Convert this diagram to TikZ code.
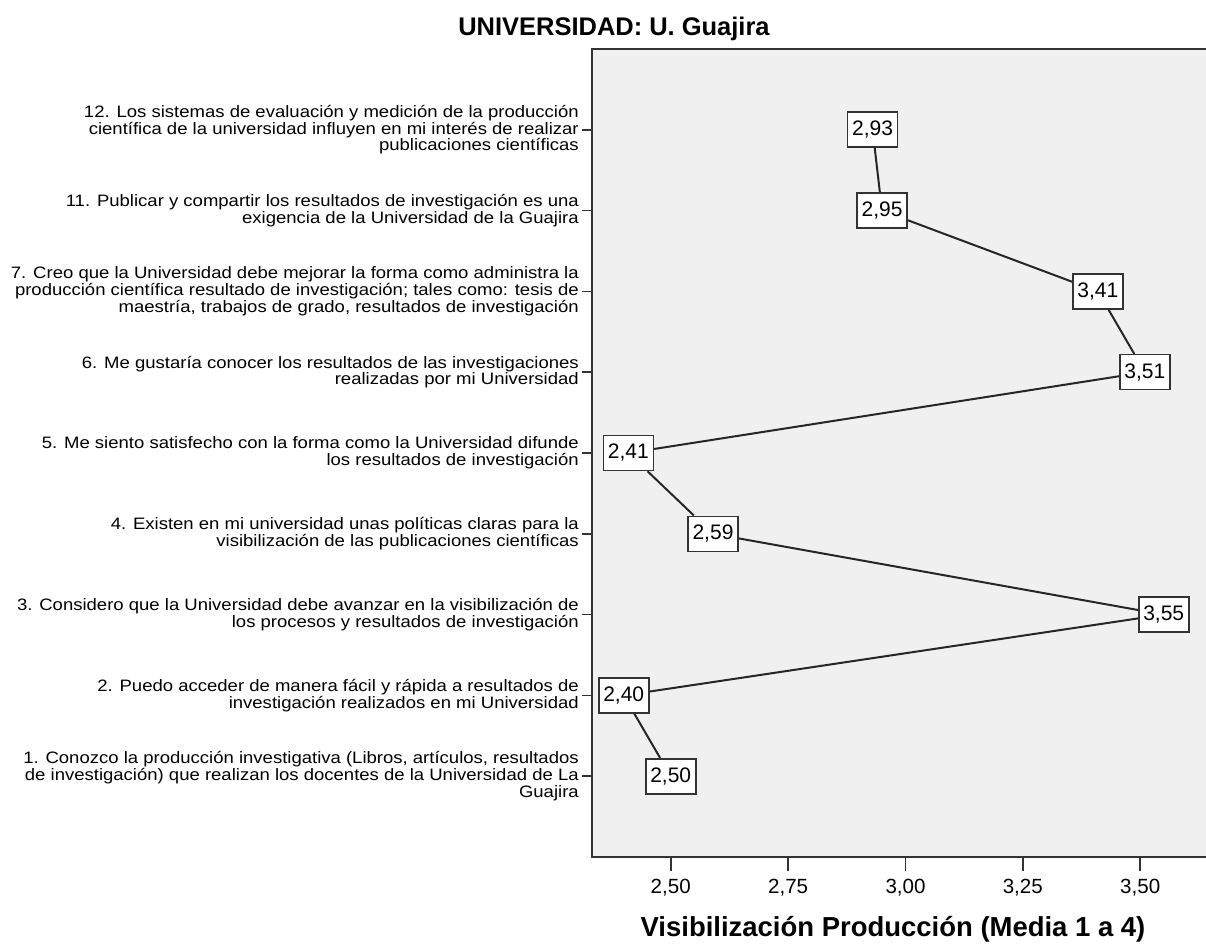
\documentclass[tikz,border=0pt]{standalone}
\usepackage{fontspec}
\setmainfont{Liberation Sans}
\newfontfamily\catfont[FakeStretch=1.12]{Liberation Sans}
\definecolor{plotbg}{HTML}{F0F0F0}
\definecolor{frm}{HTML}{333333}
\begin{document}
\begin{tikzpicture}[x=0.75pt,y=-0.75pt,
  catlabel/.style={anchor=east, align=right, inner sep=0pt, font=\catfont\fontsize{12.4pt}{12.6pt}\selectfont},
  valbox/.style={draw=frm, line width=1.2pt, fill=white, minimum width=37.5pt, minimum height=26.25pt, inner sep=0pt, font=\fontsize{15.75pt}{18pt}\selectfont},
  ticklab/.style={anchor=base, inner sep=0pt, font=\fontsize{15.4pt}{18pt}\selectfont},
  frameline/.style={draw=frm, line width=1.5pt},
  tickline/.style={draw=frm, line width=1.3pt},
  dataline/.style={draw=black!85, line width=1.5pt}]
\useasboundingbox (0,0) rectangle (1206,944);
% plot area
\fill[plotbg] (592,49) rectangle (1215,857);
\draw[frameline] (1215,49) -- (592,49) -- (592,857) -- (1215,857);
% title
\node[anchor=base, inner sep=0pt, font=\bfseries\fontsize{19.1pt}{22pt}\selectfont] (title) at (614,36) {UNIVERSIDAD: U. Guajira};
% left ticks
\foreach \yy in {129.8,210.6,291.4,372.2,453.0,533.8,614.6,695.4,776.2}
  \draw[tickline] (582,\yy) -- (592,\yy);
% bottom ticks
\foreach \xx in {670.7,788.1,905.5,1022.8,1140.2}
  \draw[tickline] (\xx,857) -- (\xx,871);
\node[ticklab] (t250) at (670.7,893) {2,50};
\node[ticklab] (t275) at (788.1,893) {2,75};
\node[ticklab] (t300) at (905.5,893) {3,00};
\node[ticklab] (t325) at (1022.8,893) {3,25};
\node[ticklab] (t350) at (1140.2,893) {3,50};
\node[anchor=base, inner sep=0pt, font=\bfseries\fontsize{20.6pt}{24pt}\selectfont] (xtitle) at (893,936) {Visibilización Producción (Media 1 a 4)};
% category labels
\node[catlabel] (c12) at (579,129.8) {12. Los sistemas de evaluación y medición de la producción\\científica de la universidad influyen en mi interés de realizar\\publicaciones científicas};
\node[catlabel] (c11) at (579,210.6) {11. Publicar y compartir los resultados de investigación es una\\exigencia de la Universidad de la Guajira};
\node[catlabel] (c7) at (579,291.4) {7. Creo que la Universidad debe mejorar la forma como administra la\\producción científica resultado de investigación; tales como: tesis de\\maestría, trabajos de grado, resultados de investigación};
\node[catlabel] (c6) at (579,372.2) {6. Me gustaría conocer los resultados de las investigaciones\\realizadas por mi Universidad};
\node[catlabel] (c5) at (579,453.0) {5. Me siento satisfecho con la forma como la Universidad difunde\\los resultados de investigación};
\node[catlabel] (c4) at (579,533.8) {4. Existen en mi universidad unas políticas claras para la\\visibilización de las publicaciones científicas};
\node[catlabel] (c3) at (579,614.6) {3. Considero que la Universidad debe avanzar en la visibilización de\\los procesos y resultados de investigación};
\node[catlabel] (c2) at (579,695.4) {2. Puedo acceder de manera fácil y rápida a resultados de\\investigación realizados en mi Universidad};
\node[catlabel] (c1) at (579,776.2) {1. Conozco la producción investigativa (Libros, artículos, resultados\\de investigación) que realizan los docentes de la Universidad de La\\Guajira};
% value boxes
\node[valbox] (v12) at (872.6,129.8) {2,93};
\node[valbox] (v11) at (882.0,210.6) {2,95};
\node[valbox] (v7) at (1097.9,291.4) {3,41};
\node[valbox] (v6) at (1144.9,372.2) {3,51};
\node[valbox] (v5) at (628.4,453.0) {2,41};
\node[valbox] (v4) at (713.0,533.8) {2,59};
\node[valbox] (v3) at (1163.7,614.6) {3,55};
\node[valbox] (v2) at (623.7,695.4) {2,40};
\node[valbox] (v1) at (670.7,776.2) {2,50};
% connectors
\draw[dataline] (v12) -- (v11);
\draw[dataline] (v11) -- (v7);
\draw[dataline] (v7) -- (v6);
\draw[dataline] (v6) -- (v5);
\draw[dataline] (v5) -- (v4);
\draw[dataline] (v4) -- (v3);
\draw[dataline] (v3) -- (v2);
\draw[dataline] (v2) -- (v1);
\end{tikzpicture}
\end{document}
